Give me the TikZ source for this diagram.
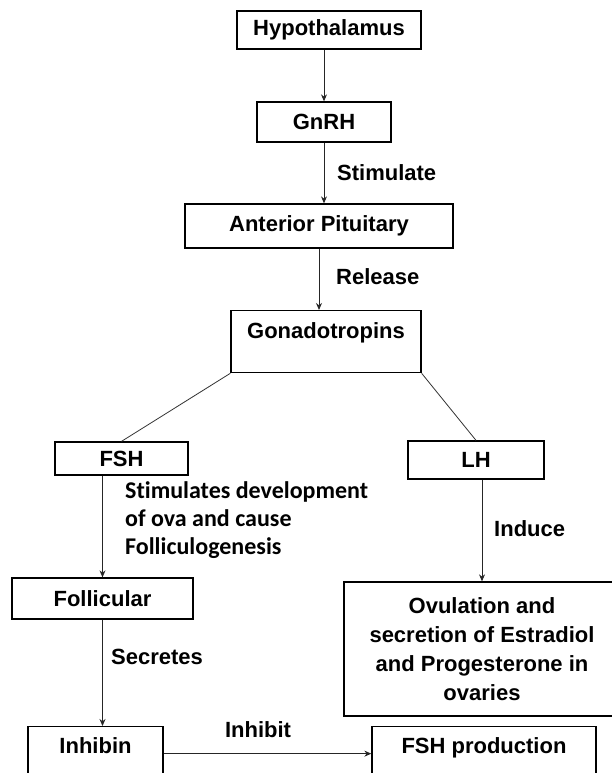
\documentclass[tikz,border=0pt]{standalone}
\usepackage{fontspec}
\setmainfont{Liberation Sans}
\newfontfamily\calfont[Ligatures=NoCommon]{Carlito}
\usetikzlibrary{arrows.meta}

\begin{document}
\begin{tikzpicture}[x=1pt,y=-1pt,
  box/.style={draw,line width=1.3pt,inner sep=0pt,align=center,
    font=\fontsize{22}{29}\selectfont\bfseries},
  lbl/.style={inner sep=0pt,font=\fontsize{22}{26}\selectfont\bfseries},
  arr/.style={line width=1pt,black!85,-{Stealth[length=7pt,width=6pt]}},
  link/.style={line width=0.8pt,black!80}]

  \useasboundingbox (0,0) rectangle (612,773);
  \clip (0,0) rectangle (612,773);

  \node (HYPO) at (329,30) [box,minimum width=184pt,minimum height=38pt] {Hypothalamus};
  \node (GNRH) at (324,122) [box,minimum width=134pt,minimum height=40pt] {GnRH};
  \node (ANTP) at (319,226) [box,minimum width=268pt,minimum height=44pt] {Anterior Pituitary};
  \node (GONA) at (326,310) [box,anchor=north,minimum width=190pt,
    inner ysep=5pt,text height=23pt,text depth=29pt] {Gonadotropins};

  \node (FSH) at (121.5,458.5) [box,minimum width=133pt,minimum height=33pt] {FSH};
  \node (LH) at (476,460) [box,minimum width=136pt,minimum height=38pt] {LH};

  \node (FOLL) at (102.5,598.5) [box,minimum width=181pt,minimum height=41pt] {Follicular};
  \node (OVUL) at (482,649) [box,minimum width=276pt,minimum height=134pt]
    {Ovulation and\\secretion of Estradiol\\and Progesterone in\\ovaries};

  \node (INHB) at (95.5,726) [box,anchor=north,minimum width=135pt,
    inner ysep=5pt,text height=22pt,text depth=40pt] {Inhibin};
  \node (FSHP) at (484,726) [box,anchor=north,minimum width=224pt,
    inner ysep=5pt,text height=22pt,text depth=40pt] {FSH production};

  % labels on the arrows
  \node (STIM) at (337,173) [lbl,anchor=west] {Stimulate};
  \node (RELS) at (336,277) [lbl,anchor=west] {Release};
  \node (DEVT) at (125,520) [anchor=west,align=left,inner sep=0pt,
    font=\calfont\fontsize{24}{28}\selectfont\bfseries]
    {Stimulates development\\of ova and cause\\Folliculogenesis};
  \node (INDU) at (494,529) [lbl,anchor=west] {Induce};
  \node (SECR) at (111,657) [lbl,anchor=west] {Secretes};
  \node (INHT) at (258,730) [lbl] {Inhibit};

  \draw[arr] (HYPO.south -| GNRH.north) -- (GNRH.north);
  \draw[arr] (GNRH.south) -- (ANTP.north -| GNRH.south);
  \draw[arr] (ANTP.south) -- (GONA.north -| ANTP.south);

  \draw[link] (GONA.south west) -- (FSH.north);
  \draw[link] (GONA.south east) -- (LH.north);

  \draw[arr] (FSH.south -| FOLL.north) -- (FOLL.north);
  \draw[arr] (FOLL.south) -- (INHB.north -| FOLL.south);
  \draw[arr] (LH.south -| OVUL.north) -- (OVUL.north);
  \draw[arr] (INHB.base east) -- (FSHP.base west);

\end{tikzpicture}
\end{document}
